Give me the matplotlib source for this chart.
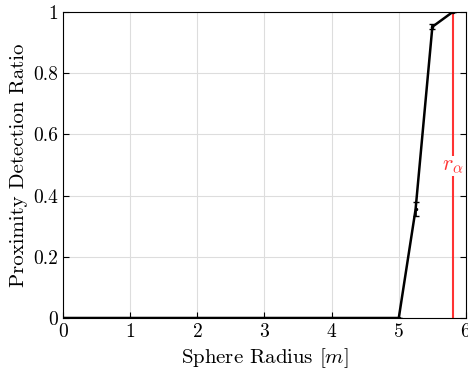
import matplotlib
matplotlib.use("Agg")
import matplotlib.pyplot as plt

plt.rcParams['font.family'] = 'serif'
plt.rcParams['font.serif'] = ['cmr10']
plt.rcParams['mathtext.fontset'] = 'cm'
plt.rcParams['axes.formatter.use_mathtext'] = True

radius = [0, 1, 2, 3, 4, 5, 5.25, 5.5, 5.8]
ratio = [0, 0, 0, 0, 0, 0, 0.355, 0.952, 1.0]
err = [0, 0, 0, 0, 0, 0, 0.023, 0.008, 0.0]
r_alpha = 5.8

fig = plt.figure(figsize=(4.68, 3.73), dpi=100)
ax = fig.add_axes([0.1346, 0.1475, 0.861, 0.820])
ax.errorbar(radius, ratio, yerr=err, color='black', lw=1.8, capsize=2,
            elinewidth=1.2, marker='.', markersize=3, zorder=3)
ax.axvline(r_alpha, color='#ff3333', lw=1.5, zorder=2)
ax.text(r_alpha, 0.497, r'$r_\alpha$', color='#ff3333', fontsize=16,
        ha='center', va='center', zorder=4,
        bbox=dict(facecolor='white', edgecolor='none', pad=0.5))
ax.set_xlim(0, 6)
ax.set_ylim(0, 1)
ax.set_xticks([0, 1, 2, 3, 4, 5, 6])
ax.set_yticks([0, 0.2, 0.4, 0.6, 0.8, 1])
ax.set_yticklabels(['0', '0.2', '0.4', '0.6', '0.8', '1'])
ax.grid(True, color='#dddddd', lw=0.8)
ax.set_axisbelow(True)
ax.tick_params(direction='in', labelsize=14, top=False, right=True, length=4)
ax.set_xlabel(r'Sphere Radius $[m]$', fontsize=15)
ax.set_ylabel('Proximity Detection Ratio', fontsize=15)
for s in ax.spines.values():
    s.set_linewidth(0.8)
fig.savefig('out.png', dpi=100)
